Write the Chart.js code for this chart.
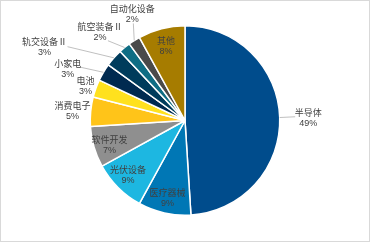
<!DOCTYPE html>
<html>
<head>
<meta charset="utf-8">
<script src="https://cdn.jsdelivr.net/npm/chart.js@4"></script>
<style>
  html, body { margin: 0; padding: 0; background: #fff; }
  canvas { display: block; }
</style>
</head>
<body>
<canvas id="chart" width="370" height="242"></canvas>
<script>
const categories = ["半导体", "医疗器械", "光伏设备", "软件开发", "消费电子", "电池", "小家电", "轨交设备Ⅱ", "航空装备Ⅱ", "自动化设备", "其他"]
const shares = [49, 9, 9, 7, 5, 3, 3, 3, 2, 2, 8]
const colors = ["#004c8c", "#0077b5", "#1db7e1", "#8f8f8f", "#ffc419", "#ffe11e", "#002a50", "#003c5c", "#0f6d84", "#4a4a4a", "#a67c00"]

// where each label sits: radius as a share of the pie radius, angle nudge in degrees,
// and (for callouts) where the leader line meets the text, relative to the label centre
const labelPlace = [
  { r: 1.30, da: 1, line: [-13, -2] },
  { r: 0.845, da: 0 },
  { r: 0.835, da: 1 },
  { r: 0.84, da: -2 },
  { r: 1.19, da: -1 },
  { r: 1.11, da: -1 },
  { r: 1.35, da: -7, line: [13, -2] },
  { r: 1.67, da: -14, line: [23, -1] },
  { r: 1.29, da: -4.5, line: [8, 8] },
  { r: 1.25, da: 6, line: [1, 9] },
  { r: 0.81, da: 0 }
]

const sliceLabels = {
  id: "sliceLabels",
  afterDatasetsDraw(chart) {
    const ctx = chart.ctx
    const arcs = chart.getDatasetMeta(0).data
    ctx.save()
    arcs.forEach((arc, i) => {
      const p = arc.getProps(["x", "y", "startAngle", "endAngle", "outerRadius"], true)
      const place = labelPlace[i]
      const mid = (p.startAngle + p.endAngle) / 2
      const a = mid + place.da * Math.PI / 180
      const cx = p.x + Math.cos(a) * p.outerRadius * place.r
      const cy = p.y + Math.sin(a) * p.outerRadius * place.r

      if (place.line) {
        ctx.strokeStyle = "#b0b0b0"
        ctx.lineWidth = 0.8
        ctx.beginPath()
        ctx.moveTo(p.x + Math.cos(mid) * p.outerRadius, p.y + Math.sin(mid) * p.outerRadius)
        ctx.lineTo(cx + place.line[0], cy + place.line[1])
        ctx.stroke()
      }

      ctx.fillStyle = "#404040"
      ctx.font = '9px "Liberation Sans", "Noto Sans CJK SC", sans-serif'
      ctx.textAlign = "center"
      ctx.textBaseline = "middle"
      ctx.fillText(categories[i], cx, cy - 5)
      ctx.fillText(shares[i] + "%", cx, cy + 5)
    })
    // thin frame round the picture
    ctx.strokeStyle = "#d9d9d9"
    ctx.lineWidth = 1
    ctx.strokeRect(0.5, 0.5, chart.width - 1, chart.height - 1)
    ctx.restore()
  }
}

new Chart(document.getElementById("chart"), {
  type: "pie",
  data: {
    labels: categories,
    datasets: [{
      data: shares,
      backgroundColor: colors,
      borderColor: "#ffffff",
      borderWidth: 1.5,
      hoverOffset: 0
    }]
  },
  options: {
    responsive: false,
    animation: false,
    devicePixelRatio: 1,
    layout: { padding: { top: 25, bottom: 26, left: 20, right: 20 } },
    plugins: {
      legend: { display: false },
      tooltip: { enabled: false }
    }
  },
  plugins: [sliceLabels]
})
</script>
</body>
</html>
